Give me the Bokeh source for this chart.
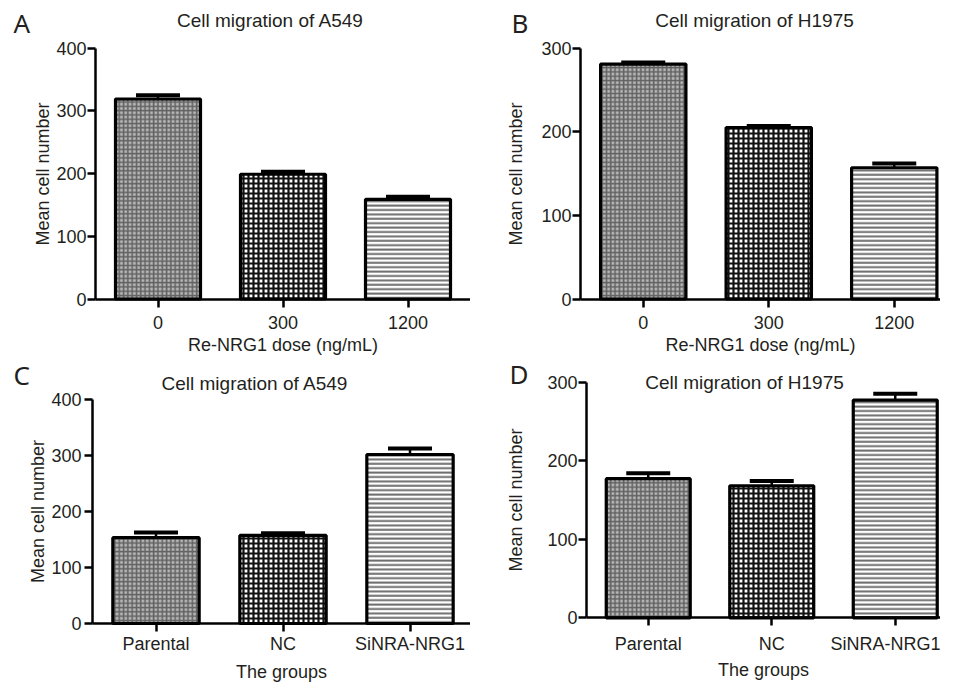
import numpy as np
from bokeh.plotting import figure
from bokeh.models import ColumnDataSource, Range1d, FixedTicker, Label, Whisker, TeeHead
from bokeh.layouts import column, row
from bokeh.embed import file_html
from bokeh.resources import INLINE

# ---------------- data ----------------
dose_labels = ["0", "300", "1200"]
group_labels = ["Parental", "NC", "SiNRA-NRG1"]

a549_dose_mean = [319, 199, 159]
a549_dose_err = [6, 4, 4]
h1975_dose_mean = [281, 205, 157]
h1975_dose_err = [2, 2, 5]
a549_group_mean = [153, 157, 301]
a549_group_err = [9, 4, 11]
h1975_group_mean = [177, 168, 277]
h1975_group_err = [7, 6, 8]

y_ticks_400 = [0, 100, 200, 300, 400]
y_ticks_300 = [0, 100, 200, 300]

# ---------------- styles ----------------
FONT = "Liberation Sans"
TXT = "#231f20"
bar_fill = ["#b8b8b8", "white", "white"]
bar_hatch = ["cross", "cross", "horizontal_line"]
bar_hcolor = ["#626262", "#111111", "#6e6e6e"]
bar_hscale = [4.3, 5.0, 4.4]
bar_hweight = [1.6, 2.2, 2.0]

TITLE_SHIFT = 7    # empirical baseline correction for labels
LETTER_SHIFT = 11


def make_panel(labels, means, errs, title, letter, xlabel, yticks, g):
    W, H = g["W"], g["H"]
    ax_x, top_y, zero_y = g["axis_x"], g["top_y"], g["zero_y"]
    cw = g["cat_w"]
    ymax = yticks[-1]
    ppu = (zero_y - top_y) / ymax
    y0 = -(H - zero_y) / ppu
    y1 = ymax + top_y / ppu
    x0 = -0.5 - ax_x / cw
    x1 = -0.5 + (W - ax_x) / cw
    x_axis_end = min(len(labels) - 0.5, x1)

    p = figure(width=W, height=H, output_backend="svg", toolbar_location=None,
               x_range=Range1d(x0, x1), y_range=Range1d(y0, y1), min_border=0)
    p.outline_line_color = None
    p.xgrid.visible = False
    p.ygrid.visible = False
    p.background_fill_color = "white"
    p.border_fill_color = "white"

    xs = list(range(len(labels)))
    src = ColumnDataSource(dict(
        x=xs, mean=means, upper=[m + e for m, e in zip(means, errs)],
        fc=bar_fill, hp=bar_hatch, hc=bar_hcolor, hs=bar_hscale, hw=bar_hweight))
    p.vbar(x="x", top="mean", bottom=0, width=0.68, source=src,
           fill_color="fc", hatch_pattern="hp", hatch_color="hc",
           hatch_scale="hs", hatch_weight="hw",
           line_color="black", line_width=3.2)
    wh = Whisker(source=src, base="x", upper="upper", lower="mean",
                 line_width=2.5, line_color="black",
                 upper_head=TeeHead(size=44, line_width=4, line_color="black"),
                 lower_head=None)
    p.add_layout(wh)

    for ax in (p.xaxis[0], p.yaxis[0]):
        ax.axis_line_width = 2.5
        ax.axis_line_color = "black"
        ax.major_tick_line_width = 2.5
        ax.major_tick_line_color = "black"
        ax.major_tick_in = 0
        ax.major_tick_out = 8
        ax.minor_tick_line_color = None
        ax.major_label_text_font = FONT
        ax.major_label_text_font_size = "18px"
        ax.major_label_text_color = TXT
        ax.axis_label_text_font = FONT
        ax.axis_label_text_font_size = "18px"
        ax.axis_label_text_font_style = "normal"
        ax.axis_label_text_color = TXT

    p.xaxis.fixed_location = 0
    p.yaxis.fixed_location = -0.5
    p.xaxis.bounds = (-0.5, x_axis_end)
    p.yaxis.bounds = (0, ymax)
    p.xaxis.ticker = FixedTicker(ticks=xs)
    p.xaxis.major_label_overrides = {i: lab for i, lab in zip(xs, labels)}
    p.xaxis.axis_label = xlabel
    p.xaxis.major_label_standoff = g["xstand"]
    p.xaxis.axis_label_standoff = g["xlstand"]
    p.yaxis.ticker = FixedTicker(ticks=yticks)
    p.yaxis.axis_label = "Mean cell number"
    p.yaxis.major_label_standoff = g["ystand"]
    p.yaxis.axis_label_standoff = g["ylstand"]

    tx, tb = g["title"]
    p.add_layout(Label(x=tx, y=H - tb + TITLE_SHIFT, x_units="screen", y_units="screen",
                       text=title, text_font=FONT, text_font_size="19px", text_color=TXT,
                       text_align="center", text_baseline="alphabetic"))
    lx, lb = g["letter"]
    p.add_layout(Label(x=lx, y=H - lb + LETTER_SHIFT, x_units="screen", y_units="screen",
                       text=letter, text_font="Noto Sans", text_font_size="26px",
                       text_color=TXT, text_align="left", text_baseline="alphabetic"))
    return p


# geometry in each figure's own pixel coordinates (origin top-left)
geomA = dict(W=470, H=355, axis_x=95, top_y=47.7, zero_y=298.5, cat_w=125.0,
             xstand=9, xlstand=2, ystand=1, ylstand=0,
             title=(270, 26.5), letter=(13, 33))
geomB = dict(W=470, H=355, axis_x=110, top_y=47.7, zero_y=298.5, cat_w=125.5,
             xstand=9, xlstand=2, ystand=1, ylstand=12,
             title=(284, 26.5), letter=(41, 33))
geomC = dict(W=470, H=327, axis_x=92, top_y=43.5, zero_y=268, cat_w=127.0,
             xstand=2, xlstand=5, ystand=3, ylstand=0,
             title=(254.5, 35), letter=(13, 30))
geomD = dict(W=470, H=327, axis_x=116, top_y=26.5, zero_y=262.3, cat_w=123.5,
             xstand=8, xlstand=3, ystand=1, ylstand=18,
             title=(274, 34), letter=(39, 29))

pA = make_panel(dose_labels, a549_dose_mean, a549_dose_err, "Cell migration of A549", "A",
                "Re-NRG1 dose (ng/mL)", y_ticks_400, geomA)
pB = make_panel(dose_labels, h1975_dose_mean, h1975_dose_err, "Cell migration of H1975", "B",
                "Re-NRG1 dose (ng/mL)", y_ticks_300, geomB)
pC = make_panel(group_labels, a549_group_mean, a549_group_err, "Cell migration of A549", "C",
                "The groups", y_ticks_400, geomC)
pD = make_panel(group_labels, h1975_group_mean, h1975_group_err, "Cell migration of H1975", "D",
                "The groups", y_ticks_300, geomD)

layout = column(row(pA, pB), row(pC, pD))
open("out.html", "w").write(file_html(layout, INLINE))
